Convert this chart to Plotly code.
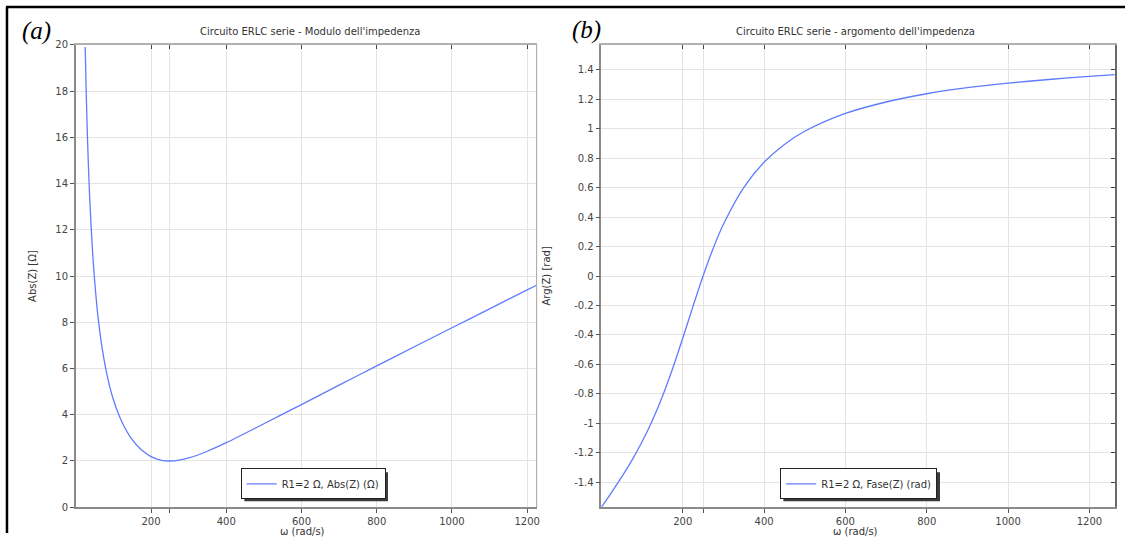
import plotly.graph_objects as go

# ---------------- data ----------------
omega_mod = [25, 27, 30, 33, 36, 40, 45, 50, 55, 60, 70, 80, 90, 100, 115, 130, 150,
             175, 200, 225, 250, 275, 300, 350, 400, 500, 600, 700, 800, 900, 1000,
             1100, 1200, 1225]
abs_z = [19.90, 18.41, 16.55, 15.02, 13.75, 12.34, 10.94, 9.81, 8.88, 8.10, 6.88, 5.96,
         5.23, 4.65, 3.97, 3.45, 2.92, 2.47, 2.19, 2.04, 2.00, 2.04, 2.13, 2.42, 2.79,
         3.61, 4.44, 5.28, 6.11, 6.94, 7.76, 8.58, 9.40, 9.60]

omega_arg = [0, 10, 25, 50, 75, 100, 125, 150, 175, 200, 225, 250, 275, 300, 350, 400,
             450, 500, 600, 700, 800, 900, 1000, 1100, 1200, 1262]
arg_z = [-1.570, -1.531, -1.470, -1.365, -1.252, -1.126, -0.983, -0.818, -0.630, -0.423,
         -0.208, 0.000, 0.189, 0.351, 0.601, 0.773, 0.894, 0.983, 1.104, 1.182, 1.238,
         1.279, 1.310, 1.335, 1.356, 1.368]

x_tickvals = [200, 250, 400, 600, 800, 1000, 1200]
x_ticktext = ["200", "", "400", "600", "800", "1000", "1200"]
y1_tickvals = [0, 2, 4, 6, 8, 10, 12, 14, 16, 18, 20]
y2_tickvals = [-1.4, -1.2, -1.0, -0.8, -0.6, -0.4, -0.2, 0.0, 0.2, 0.4, 0.6, 0.8, 1.0, 1.2, 1.4]
y2_ticktext = ["-1.4", "-1.2", "-1", "-0.8", "-0.6", "-0.4", "-0.2", "0", "0.2", "0.4",
               "0.6", "0.8", "1", "1.2", "1.4"]

name_mod = "R1=2 Ω, Abs(Z) (Ω)"
name_arg = "R1=2 Ω, Fase(Z) (rad)"
title_mod = "Circuito ERLC serie - Modulo dell'impedenza"
title_arg = "Circuito ERLC serie - argomento dell'impedenza"

# ---------------- layout constants ----------------
W, H = 1128, 539
LINE_COLOR = "#5f7cff"
FONT = "DejaVu Sans"
TICK_FONT = dict(family=FONT, size=10, color="#444")
GRID = "#e4e4e4"
AXIS = "#8a8a8a"


def px(x):
    return x / W


def py(y):
    # compensate the slight vertical compression seen in the rendered page
    ys = (y - 4.1) / 0.981
    return 1 - ys / H


dom_x1 = [px(76), px(538)]
dom_x2 = [px(603), px(1118)]
dom_y = [py(507), py(43)]

fig = go.Figure()

fig.add_trace(go.Scatter(x=omega_mod, y=abs_z, mode="lines", name=name_mod,
                         line=dict(color=LINE_COLOR, width=1.3, shape="spline", smoothing=0.8),
                         xaxis="x", yaxis="y", legend="legend"))
fig.add_trace(go.Scatter(x=omega_arg, y=arg_z, mode="lines", name=name_arg,
                         line=dict(color=LINE_COLOR, width=1.3, shape="spline", smoothing=0.8),
                         xaxis="x2", yaxis="y2", legend="legend2"))
# helper traces to activate overlay axes (inside ticks on top / right)
fig.add_trace(go.Scatter(x=[None], y=[None], xaxis="x3", yaxis="y", showlegend=False, hoverinfo="skip"))
fig.add_trace(go.Scatter(x=[None], y=[None], xaxis="x4", yaxis="y3", showlegend=False, hoverinfo="skip"))

common_x = dict(tickvals=x_tickvals, ticktext=x_ticktext, showgrid=True, gridcolor=GRID,
                gridwidth=1, zeroline=False, showline=True, linecolor=AXIS, linewidth=1.5,
                ticks="outside", ticklen=4, tickcolor="#555", tickfont=TICK_FONT)

LEG_Y = 483.5
fig.update_layout(
    width=W, height=H,
    margin=dict(l=0, r=0, t=0, b=0),
    paper_bgcolor="white", plot_bgcolor="white",
    showlegend=True,
    xaxis=dict(domain=dom_x1, range=[0, 1225], anchor="y", **common_x),
    yaxis=dict(domain=dom_y, range=[0, 20], anchor="x", tickvals=y1_tickvals,
               showgrid=True, gridcolor=GRID, zeroline=False, showline=True,
               linecolor=AXIS, linewidth=1.5, ticks="outside", ticklen=4, tickcolor="#555",
               tickfont=TICK_FONT),
    xaxis2=dict(domain=dom_x2, range=[0, 1263], anchor="y2", **common_x),
    yaxis2=dict(domain=dom_y, range=[-1.5708, 1.5708], anchor="x2", tickvals=y2_tickvals,
                ticktext=y2_ticktext, showgrid=True, gridcolor=GRID, zeroline=False,
                showline=True, linecolor=AXIS, linewidth=1.5, ticks="outside", ticklen=4,
                tickcolor="#555", tickfont=TICK_FONT),
    xaxis3=dict(overlaying="x", side="top", anchor="y", range=[0, 1225], tickvals=x_tickvals,
                showticklabels=False, showgrid=False, zeroline=False, showline=True,
                linecolor="#b0b0b0", linewidth=1.5, ticks="inside", ticklen=4, tickcolor="#444"),
    xaxis4=dict(overlaying="x2", side="top", anchor="y2", range=[0, 1263], tickvals=x_tickvals,
                showticklabels=False, showgrid=False, zeroline=False, showline=True,
                linecolor="#b0b0b0", linewidth=1.5, ticks="inside", ticklen=4, tickcolor="#444"),
    yaxis3=dict(overlaying="y2", side="right", anchor="x2", range=[-1.5708, 1.5708],
                tickvals=y2_tickvals, showticklabels=False, showgrid=False, zeroline=False,
                showline=True, linecolor="#6a6a6a", linewidth=1.5, ticks="inside", ticklen=4,
                tickcolor="#444"),
    legend=dict(x=px(314), y=py(LEG_Y), xanchor="center", yanchor="middle",
                bgcolor="white", bordercolor="#222", borderwidth=1,
                font=dict(family=FONT, size=10, color="#333"), itemwidth=30),
    legend2=dict(x=px(861), y=py(LEG_Y), xanchor="center", yanchor="middle",
                 bgcolor="white", bordercolor="#222", borderwidth=1,
                 font=dict(family=FONT, size=10, color="#333"), itemwidth=30),
)

# legend drop shadows (legend boxes ~144 and ~157 px wide, ~29 px tall)
for cx, w in [(314, 144), (861, 157)]:
    fig.add_shape(type="rect", xref="paper", yref="paper", layer="above",
                  x0=px(cx - w / 2 + 3), x1=px(cx + w / 2 + 3),
                  y0=py(LEG_Y + 14.5 + 3), y1=py(LEG_Y - 14.5 + 3),
                  fillcolor="#3a3a3a", line=dict(width=0))

# right border of the (cropped) left panel
fig.add_shape(type="line", xref="paper", yref="paper", x0=px(538), x1=px(538),
              y0=py(507), y1=py(43), line=dict(color="#b0b0b0", width=1.2))

# outer black frame (top and left)
fig.add_shape(type="line", xref="paper", yref="paper", x0=px(6), x1=1, y0=py(5), y1=py(5),
              line=dict(color="black", width=2.5))
fig.add_shape(type="line", xref="paper", yref="paper", x0=px(7), x1=px(7), y0=0, y1=py(5),
              line=dict(color="black", width=2.5))

TXT = dict(family=FONT, size=10, color="#333")
ann = []


def add_text(text, x, y, font, angle=0):
    ann.append(dict(text=text, x=px(x), y=py(y), xref="paper", yref="paper",
                    xanchor="center", yanchor="middle", showarrow=False,
                    textangle=angle, font=font))


add_text(title_mod, 311, 30, TXT)
add_text(title_arg, 858, 30, TXT)
add_text("Abs(Z) [Ω]", 33, 275, TXT, -90)
add_text("Arg(Z) [rad]", 548, 275, TXT, -90)
add_text("ω (rad/s)", 303, 531, TXT)
add_text("ω (rad/s)", 858, 531, TXT)
add_text("<i>(a)</i>", 37, 29, dict(family="Liberation Serif", size=25, color="black"))
add_text("<i>(b)</i>", 588, 28, dict(family="Liberation Serif", size=25, color="black"))
fig.update_layout(annotations=ann)

post = ("var s=document.createElement('style');"
        "s.textContent='html,body{margin:0;padding:0;overflow:hidden;height:539px;width:1128px;}';"
        "document.head.appendChild(s);")
fig.write_html("out.html", config={"displayModeBar": False}, post_script=post)
